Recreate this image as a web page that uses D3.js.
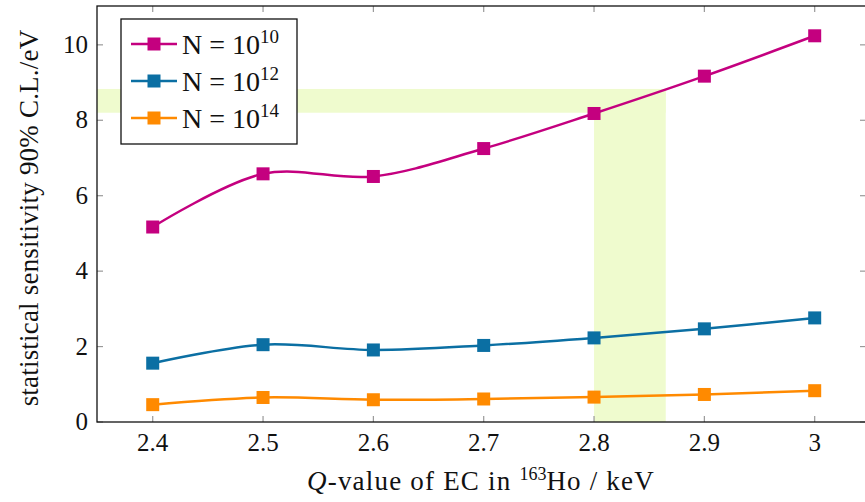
<!DOCTYPE html>
<html>
<head>
<meta charset="utf-8">
<script src="https://cdn.jsdelivr.net/npm/d3@7"></script>
<style>
  body { margin: 0; background: #fff; }
  svg text { font-family: "Liberation Serif", "DejaVu Serif", serif; fill: #111; }
</style>
</head>
<body>
<svg id="chart" width="865" height="502"></svg>
<script>
// data
var qValues = [2.4, 2.5, 2.6, 2.7, 2.8, 2.9, 3.0];
var sens1e10 = [5.17, 6.58, 6.51, 7.25, 8.18, 9.17, 10.24];
var sens1e12 = [1.56, 2.05, 1.91, 2.03, 2.23, 2.47, 2.76];
var sens1e14 = [0.46, 0.65, 0.59, 0.61, 0.66, 0.73, 0.83];
var xTicks = [2.4, 2.5, 2.6, 2.7, 2.8, 2.9, 3];
var yTicks = [0, 2, 4, 6, 8, 10];
var seriesNames = ["10", "12", "14"];
// highlighted band: Q range and sensitivity range
var bandQ = [2.8, 2.865];
var bandS = [8.2, 8.83];

var series = [
    {exp: seriesNames[0], values: sens1e10, color: "#c4007f"},
    {exp: seriesNames[1], values: sens1e12, color: "#0b6fa3"},
    {exp: seriesNames[2], values: sens1e14, color: "#ff8a00"}
];

var svg = d3.select("#chart");
var pLeft = 97, pRight = 866, pTop = 6, pBottom = 422;

var x = d3.scaleLinear().domain([2.3495, 3.0465]).range([pLeft, pRight]);
var y = d3.scaleLinear().domain([0, 11.03]).range([pBottom, pTop]);

// highlight band (horizontal + vertical part)
var bandColor = "#effbce";
svg.append("rect")
    .attr("x", pLeft)
    .attr("y", y(bandS[1]))
    .attr("width", x(bandQ[1]) - pLeft)
    .attr("height", y(bandS[0]) - y(bandS[1]))
    .style("fill", bandColor);
svg.append("rect")
    .attr("x", x(bandQ[0]))
    .attr("y", y(bandS[1]))
    .attr("width", x(bandQ[1]) - x(bandQ[0]))
    .attr("height", y(0) - y(bandS[1]))
    .style("fill", bandColor);

// inner ticks on all four sides
var tickLen = 6;
var ticks = svg.append("g").style("stroke", "#999").style("stroke-width", 1.2);
xTicks.forEach(function (t) {
    ticks.append("line").attr("x1", x(t)).attr("x2", x(t)).attr("y1", pBottom).attr("y2", pBottom - tickLen);
    ticks.append("line").attr("x1", x(t)).attr("x2", x(t)).attr("y1", pTop).attr("y2", pTop + tickLen);
});
yTicks.forEach(function (t) {
    ticks.append("line").attr("x1", pLeft).attr("x2", pLeft + tickLen).attr("y1", y(t)).attr("y2", y(t));
    ticks.append("line").attr("x1", pRight).attr("x2", pRight - tickLen).attr("y1", y(t)).attr("y2", y(t));
});

// frame
svg.append("rect")
    .attr("x", pLeft).attr("y", pTop)
    .attr("width", pRight - pLeft).attr("height", pBottom - pTop)
    .style("fill", "none").style("stroke", "#111").style("stroke-width", 1.3);

// tick labels
svg.append("g").selectAll("text").data(xTicks).enter().append("text")
    .attr("x", function (d) { return x(d); })
    .attr("y", pBottom + 29)
    .attr("text-anchor", "middle")
    .style("font-size", "25px")
    .text(function (d) { return d3.format("")(d); });

svg.append("g").selectAll("text").data(yTicks).enter().append("text")
    .attr("x", pLeft - 9)
    .attr("y", function (d) { return y(d) + 8; })
    .attr("text-anchor", "end")
    .style("font-size", "25px")
    .text(function (d) { return d; });

// axis titles
var xt = svg.append("text")
    .attr("x", 481).attr("y", 490)
    .attr("text-anchor", "middle")
    .style("font-size", "27px")
    .style("letter-spacing", "1.2px");
xt.append("tspan").style("font-style", "italic").text("Q");
xt.append("tspan").text("-value of EC in ");
xt.append("tspan").attr("dy", -10).style("font-size", "18px").style("letter-spacing", "0px").text("163");
xt.append("tspan").attr("dy", 10).text("Ho / keV");

svg.append("text")
    .attr("transform", "translate(38," + ((pTop + pBottom) / 2 + 4) + ") rotate(-90)")
    .attr("text-anchor", "middle")
    .style("font-size", "27px")
    .style("letter-spacing", "0.2px")
    .text("statistical sensitivity 90% C.L./eV");

// curves
var line = d3.line()
    .x(function (d, i) { return x(qValues[i]); })
    .y(function (d) { return y(d); })
    .curve(d3.curveCatmullRom.alpha(0.5));

var ms = 13;
series.forEach(function (s) {
    svg.append("path")
        .datum(s.values)
        .attr("d", line)
        .style("fill", "none")
        .style("stroke", s.color)
        .style("stroke-width", 2.5);
    svg.append("g").selectAll("rect").data(s.values).enter().append("rect")
        .attr("x", function (d, i) { return x(qValues[i]) - ms / 2; })
        .attr("y", function (d) { return y(d) - ms / 2; })
        .attr("width", ms).attr("height", ms)
        .style("fill", s.color);
});

// legend
var legend = svg.append("g").attr("transform", "translate(121,19)");
legend.append("rect")
    .attr("width", 176).attr("height", 125)
    .style("fill", "#fff").style("stroke", "#111").style("stroke-width", 1.3);
series.forEach(function (s, i) {
    var g = legend.append("g").attr("transform", "translate(0," + (25 + i * 37) + ")");
    g.append("line").attr("x1", 10).attr("x2", 56)
        .style("stroke", s.color).style("stroke-width", 2.5);
    g.append("rect").attr("x", 33 - ms / 2).attr("y", -ms / 2)
        .attr("width", ms).attr("height", ms).style("fill", s.color);
    var t = g.append("text").attr("x", 61).attr("y", 10).style("font-size", "28px");
    t.append("tspan").text("N = 10");
    t.append("tspan").attr("dy", -11).style("font-size", "19px").text(s.exp);
});
</script>
</body>
</html>
